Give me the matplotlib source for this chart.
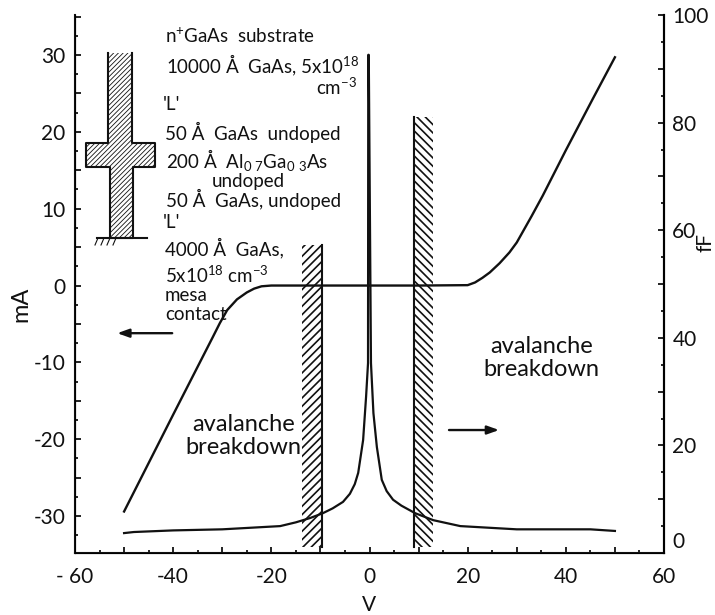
import matplotlib
matplotlib.use('Agg')
import matplotlib.pyplot as plt
from matplotlib.transforms import ScaledTranslation

# corriente (eje izquierdo)
v_i = [-50, -40, -32, -30.5, -29, -27, -25, -23.5, -22, -20, -10, 0, 10, 20, 21.5, 23, 24.5, 26.5, 28.5, 30, 33, 35.3, 40, 45.5, 50]
i_ma = [-29.4, -16.8, -6.8, -4.9, -3.2, -1.8, -0.9, -0.4, -0.1, 0, 0, 0, 0, 0.05, 0.4, 1.0, 1.7, 2.9, 4.3, 5.6, 9.0, 11.7, 17.6, 24.3, 29.7]

# capacitancia (eje derecho), el pico llega casi arriba en V=0
v_c = [-50, -48, -40, -30, -18.2, -15, -12.1, -9.5, -7.5, -5.4, -4, -3, -2.3, -1.3, -0.7, -0.3, -0.25, -0.15, 0.3, 0.8, 1.5, 2.5, 3.5, 4.8, 6.5, 9.3, 13, 18.5, 30, 40, 45, 50]
c_ff = [3.7, 3.9, 4.2, 4.4, 5.0, 5.7, 6.5, 7.4, 8.3, 9.5, 11, 12.8, 14.9, 21, 29, 35.3, 92.6, 92.6, 35.3, 26, 19.7, 13.6, 11.5, 9.9, 8.8, 7.4, 6.1, 5.0, 4.4, 4.4, 4.4, 4.1]

x_major = [-60, -50, -40, -30, -20, -10, 0, 10, 20, 30, 40, 50, 60]
x_labels = ['- 60', '', '-40', '', '-20', '', '0', '', '20', '', '40', '', '60']
x_minor = [-55, -45, -35, -25, -15, -5, 5, 15, 25, 35, 45, 55]
y_major = [-30, -25, -20, -15, -10, -5, 0, 5, 10, 15, 20, 25, 30, 35]
y_labels = ['-30', '', '-20', '', '-10', '', '0', '', '10', '', '20', '', '30', '']
y_minor = [-32.5, -27.5, -22.5, -17.5, -12.5, -7.5, -2.5, 2.5, 7.5, 12.5, 17.5, 22.5, 27.5, 32.5]
r_major = [0, 10, 20, 30, 40, 50, 60, 70, 80, 90, 100]
r_labels = ['0', '', '20', '', '40', '', '60', '', '80', '', '100']
r_minor = [5, 15, 25, 35, 45, 55, 65, 75, 85, 95]

# bloques hachurados
hatch_x0 = [-13.7, 9.1]
hatch_x1 = [-9.7, 13]
hatch_top = [5.3, 21.9]
hatch_bottom = -34
hatch_kind = ['////', '\\\\\\\\']

layer_text = [
    (165, 36, "n$^{+}$GaAs  substrate"),
    (166, 65, "10000 Å  GaAs, 5x10$^{18}$"),
    (316, 87, "cm$^{-3}$"),
    (163, 105, "'L'"),
    (165, 132, "50 Å  GaAs  undoped"),
    (166, 160, "200 Å  Al$_{0\\ 7}$Ga$_{0\\ 3}$As"),
    (212, 181, "undoped"),
    (166, 199, "50 Å  GaAs, undoped"),
    (163, 222, "'L'"),
    (165, 248, "4000 Å  GaAs,"),
    (165, 275, "5x10$^{18}$ cm$^{-3}$"),
    (165, 295, "mesa"),
    (165, 315, "contact"),
]

ink = '#111111'
plt.rcParams['font.family'] = ['Lato', 'DejaVu Sans']
plt.rcParams['mathtext.fontset'] = 'custom'
plt.rcParams['mathtext.rm'] = 'Lato'
plt.rcParams['mathtext.default'] = 'rm'

W, H = 715, 615
fig = plt.figure(figsize=(W / 100, H / 100), dpi=100)
ax = fig.add_axes([75 / W, 1 - 553 / H, (664 - 75) / W, (553 - 15) / H])
ax.set_xlim(-60, 60)
ax.set_ylim(-34.8, 35.2)
ax.plot(v_i, i_ma, color=ink, lw=1.7, zorder=3)
ax.set_xticks(x_major)
ax.set_xticklabels(x_labels)
ax.set_xticks(x_minor, minor=True)
ax.set_yticks(y_major)
ax.set_yticklabels(y_labels)
ax.set_yticks(y_minor, minor=True)
ax.tick_params(axis='x', which='major', direction='in', labelsize=15, width=1.3, length=4.5, pad=10, colors=ink)
ax.tick_params(axis='y', which='major', direction='in', labelsize=15, width=1.3, length=4.5, pad=7, colors=ink)
ax.tick_params(which='minor', direction='in', width=1.3, length=2.2, color=ink)
ax.spines['top'].set_visible(False)
for s in ['left', 'right', 'bottom']:
    ax.spines[s].set_linewidth(1.5)
    ax.spines[s].set_color(ink)

ax2 = ax.twinx()
ax2.set_ylim(0, 100)
ax2.plot(v_c, c_ff, color=ink, lw=1.6, zorder=3)
ax2.set_yticks(r_major)
ax2.set_yticklabels(r_labels)
ax2.set_yticks(r_minor, minor=True)
ax2.tick_params(which='major', direction='in', labelsize=15, width=1.3, length=4.5, pad=6, colors=ink)
ax2.tick_params(which='minor', direction='in', width=1.3, length=2.2, color=ink)
ax2.spines['top'].set_visible(False)
ax2.spines['right'].set_linewidth(1.5)
# el 0 de la derecha queda por encima del eje
lab0 = ax2.get_yticklabels()[0]
lab0.set_transform(lab0.get_transform() + ScaledTranslation(0, 13 / 100, fig.dpi_scale_trans))

plt.rcParams['hatch.linewidth'] = 1.2
plt.rcParams['hatch.color'] = ink
for x0, x1, top, kind in zip(hatch_x0, hatch_x1, hatch_top, hatch_kind):
    ax.fill_between([x0, x1], hatch_bottom, top, facecolor='none', edgecolor=ink, hatch=kind, lw=0)
ax.plot([hatch_x1[0], hatch_x1[0]], [hatch_bottom, hatch_top[0]], color=ink, lw=1.5)
ax.plot([hatch_x0[1], hatch_x0[1]], [hatch_bottom, hatch_top[1]], color=ink, lw=1.5)

ax.annotate('', xy=(-51.4, -6.2), xytext=(-40.2, -6.2),
            arrowprops=dict(arrowstyle='-|>,head_length=0.7,head_width=0.25', color=ink, lw=1.7, shrinkA=0, shrinkB=0))
ax.annotate('', xy=(26.4, -18.8), xytext=(16.2, -18.8),
            arrowprops=dict(arrowstyle='-|>,head_length=0.7,head_width=0.25', color=ink, lw=1.7, shrinkA=0, shrinkB=0))
ax.text(-25.6, -19.6, 'avalanche\nbreakdown', fontsize=17, ha='center', va='center', color=ink, linespacing=1.15)
ax.text(35.1, -9.4, 'avalanche\nbreakdown', fontsize=17, ha='center', va='center', color=ink, linespacing=1.15)

for px, py, s in layer_text:
    fig.text(px / W, 1 - py / H, s, fontsize=13.5, va='center', color=ink)

fig.text(369 / W, 1 - 605 / H, 'V', fontsize=15, ha='center', va='center', color=ink)
fig.text(21 / W, 1 - 304 / H, 'mA', fontsize=17, rotation=90, ha='center', va='center', color=ink)
fig.text(706 / W, 1 - 242 / H, 'fF', fontsize=15, rotation=90, ha='center', va='center', color=ink)

# esquema de la estructura
sk = fig.add_axes([0, 0, 1, 1], facecolor='none')
sk.set_xlim(0, W)
sk.set_ylim(H, 0)
sk.axis('off')
xs = [108, 108, 86, 86, 110, 110, 133, 133, 155, 155, 132, 132]
ys = [53, 143, 143, 167, 167, 238, 238, 167, 167, 143, 143, 53]
plt.rcParams['hatch.linewidth'] = 0.6
sk.fill(xs, ys, facecolor='none', edgecolor=ink, hatch='///////', lw=0)
sk.plot(xs, ys, color=ink, lw=1.5)
sk.plot([97, 147], [238, 238], color=ink, lw=1.5)
for gx in [98, 104, 110, 116]:
    sk.plot([gx, gx - 3], [238, 245], color=ink, lw=0.8)

fig.savefig('out.png', dpi=100)
